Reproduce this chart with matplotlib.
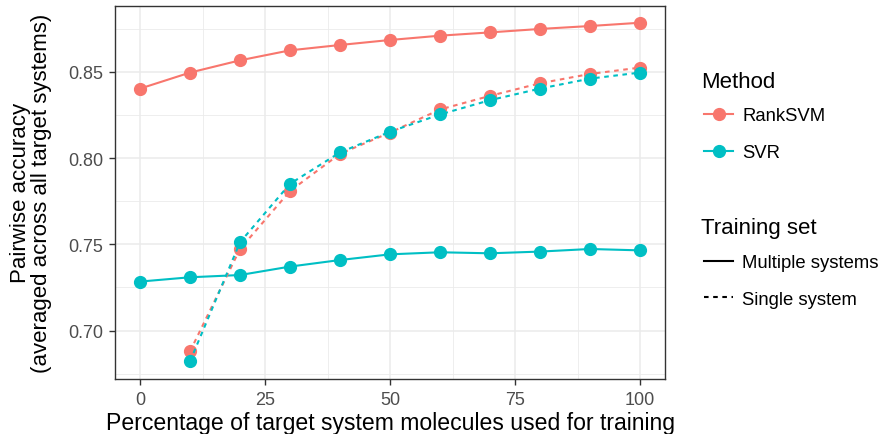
import matplotlib
matplotlib.use("Agg")
import matplotlib.pyplot as plt
from matplotlib.lines import Line2D
from matplotlib.ticker import MultipleLocator

plt.rcParams['font.family'] = ['Liberation Sans', 'DejaVu Sans']

pct_multi = [0, 10, 20, 30, 40, 50, 60, 70, 80, 90, 100]
pct_single = [10, 20, 30, 40, 50, 60, 70, 80, 90, 100]

ranksvm_multi = [0.8403, 0.8496, 0.8567, 0.8625, 0.8656, 0.8685, 0.8710, 0.8729, 0.8749, 0.8766, 0.8785]
svr_multi = [0.7284, 0.7309, 0.7322, 0.7371, 0.7409, 0.7442, 0.7454, 0.7448, 0.7458, 0.7473, 0.7465]
ranksvm_single = [0.6879, 0.7473, 0.7809, 0.8025, 0.8148, 0.8282, 0.8361, 0.8434, 0.8488, 0.8525]
svr_single = [0.6821, 0.7512, 0.7851, 0.8033, 0.8153, 0.8253, 0.8336, 0.8403, 0.8461, 0.8496]

methods = ['RankSVM', 'SVR']
training_sets = ['Multiple systems', 'Single system']
colors = {'RankSVM': '#F8766D', 'SVR': '#00BFC4'}

W, H = 883, 435
fig = plt.figure(figsize=(W / 100, H / 100), dpi=100)
ax = fig.add_axes([115 / W, 1 - 379.5 / H, (665 - 115) / W, (379.5 - 6.5) / H])

lw = 1.5
ms = 8.5
dash = (0, (2.2, 2.2))
ax.plot(pct_multi, ranksvm_multi, color=colors['RankSVM'], lw=lw, marker='o', ms=ms, zorder=3)
ax.plot(pct_multi, svr_multi, color=colors['SVR'], lw=lw, marker='o', ms=ms, zorder=3)
ax.plot(pct_single, ranksvm_single, color=colors['RankSVM'], lw=lw, ls=dash, marker='o', ms=ms, zorder=3)
ax.plot(pct_single, svr_single, color=colors['SVR'], lw=lw, ls=dash, marker='o', ms=ms, zorder=4)

ax.set_xlim(-5, 105)
ax.set_ylim(0.6722, 0.8885)
ax.xaxis.set_minor_locator(MultipleLocator(12.5))
ax.yaxis.set_minor_locator(MultipleLocator(0.025))
ax.set_yticks([0.70, 0.75, 0.80, 0.85])
ax.set_yticklabels(['0.70', '0.75', '0.80', '0.85'])
ax.set_xticks([0, 25, 50, 75, 100])
ax.set_xticklabels(['0', '25', '50', '75', '100'])

ax.grid(which='major', color='#EBEBEB', lw=1.1, zorder=0)
ax.grid(which='minor', color='#EBEBEB', lw=0.6, zorder=0)
ax.set_axisbelow(True)
for s in ax.spines.values():
    s.set_color('#333333')
    s.set_linewidth(1.0)
ax.tick_params(which='major', length=4, color='#333333', labelsize=13, labelcolor='#4D4D4D', width=1.0)
ax.tick_params(axis='x', which='major', pad=5.0)
ax.tick_params(axis='y', which='major', pad=4.5)
ax.tick_params(which='minor', length=0)

def fx(x):
    return x / W

def fy(y):
    return 1 - y / H

fig.text(fx(390), fy(430), 'Percentage of target system molecules used for training',
         fontsize=16.6, ha='center', va='baseline')
ax.set_ylabel('Pairwise accuracy\n(averaged across all target systems)', fontsize=16, linespacing=1.0)
ax.yaxis.set_label_coords((52 - 115) / 550, 0.5)

# Legend: Method
title_fs = 16
text_fs = 13.3
fig.text(fx(701), fy(88), 'Method', fontsize=title_fs, ha='left', va='baseline')
for m, yc in zip(methods, [114.5, 151.5]):
    fig.add_artist(Line2D([fx(704), fx(733)], [fy(yc), fy(yc)], color=colors[m], lw=lw,
                          transform=fig.transFigure))
    fig.add_artist(Line2D([fx(718.5)], [fy(yc)], color=colors[m], marker='o', ms=ms, lw=0,
                          transform=fig.transFigure))
    fig.text(fx(742), fy(yc + 6.6), m, fontsize=text_fs, ha='left', va='baseline')

# Legend: Training set
fig.text(fx(701), fy(234.3), 'Training set', fontsize=title_fs, ha='left', va='baseline')
for t, yc, ls in zip(training_sets, [261.5, 298.3], ['-', dash]):
    fig.add_artist(Line2D([fx(704), fx(733)], [fy(yc), fy(yc)], color='black', lw=lw, ls=ls,
                          transform=fig.transFigure))
    fig.text(fx(742), fy(yc + 6.6), t, fontsize=text_fs, ha='left', va='baseline')

fig.savefig('out.png', dpi=100)
